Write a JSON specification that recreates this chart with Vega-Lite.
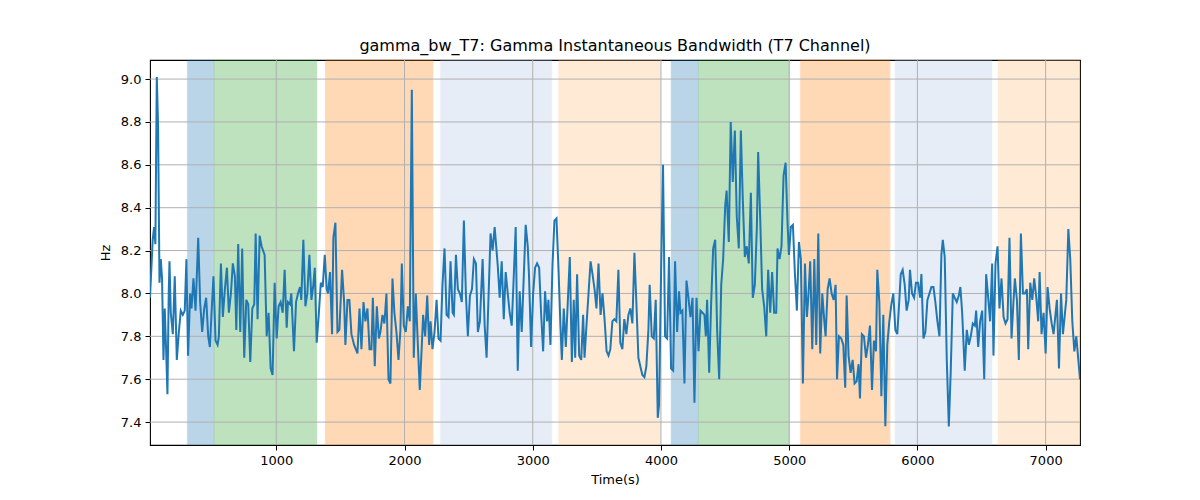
{
  "$schema": "https://vega.github.io/schema/vega-lite/v6.json",
  "width": 930,
  "height": 385,
  "autosize": {"type": "none"},
  "padding": {"left": 150, "top": 60, "right": 120, "bottom": 55},
  "background": "white",
  "config": {
    "view": {"stroke": "black", "strokeWidth": 1.1},
    "axis": {
      "domain": false,
      "grid": false,
      "tickColor": "black",
      "tickSize": 5,
      "tickWidth": 1,
      "labelFont": "DejaVu Sans",
      "labelFontSize": 13,
      "labelColor": "black",
      "labelPadding": 4,
      "titleFont": "DejaVu Sans",
      "titleFontSize": 13,
      "titleFontWeight": "normal",
      "titleColor": "black"
    }
  },
  "title": {
    "text": "gamma_bw_T7: Gamma Instantaneous Bandwidth (T7 Channel)",
    "font": "DejaVu Sans",
    "fontSize": 16,
    "fontWeight": "normal",
    "color": "black",
    "anchor": "middle",
    "offset": 5
  },
  "datasets": {
    "bands": [
      {"start": 306, "end": 514, "kind": "a"},
      {"start": 514, "end": 1317, "kind": "b"},
      {"start": 1382, "end": 2222, "kind": "c"},
      {"start": 2279, "end": 3149, "kind": "d"},
      {"start": 3201, "end": 3996, "kind": "e"},
      {"start": 4079, "end": 4292, "kind": "a"},
      {"start": 4292, "end": 5002, "kind": "b"},
      {"start": 5087, "end": 5787, "kind": "c"},
      {"start": 5826, "end": 6582, "kind": "d"},
      {"start": 6629, "end": 7268, "kind": "e"}
    ],
    "xgrid": [{"v": 1000}, {"v": 2000}, {"v": 3000}, {"v": 4000}, {"v": 5000}, {"v": 6000}, {"v": 7000}],
    "ygrid": [{"v": 7.4}, {"v": 7.6}, {"v": 7.8}, {"v": 8.0}, {"v": 8.2}, {"v": 8.4}, {"v": 8.6}, {"v": 8.8}, {"v": 9.0}],
    "series": [
      {"t":15,"hz":7.98},{"t":36,"hz":8.25},{"t":47,"hz":8.31},{"t":57,"hz":8.23},{"t":68,"hz":9.01},{"t":78,"hz":8.78},{"t":89,"hz":8.05},{"t":99,"hz":8.16},{"t":109,"hz":8.07},{"t":120,"hz":7.69},{"t":130,"hz":7.93},{"t":141,"hz":7.73},{"t":151,"hz":7.53},{"t":161,"hz":8.0},{"t":167,"hz":8.15},{"t":177,"hz":7.91},{"t":193,"hz":7.81},{"t":208,"hz":8.08},{"t":224,"hz":7.69},{"t":240,"hz":7.82},{"t":255,"hz":7.92},{"t":271,"hz":7.9},{"t":286,"hz":7.92},{"t":299,"hz":8.16},{"t":312,"hz":7.71},{"t":328,"hz":8.0},{"t":339,"hz":7.93},{"t":354,"hz":8.07},{"t":370,"hz":7.92},{"t":391,"hz":8.26},{"t":406,"hz":7.96},{"t":422,"hz":7.82},{"t":438,"hz":7.93},{"t":453,"hz":7.98},{"t":469,"hz":7.8},{"t":482,"hz":7.75},{"t":495,"hz":7.91},{"t":510,"hz":8.08},{"t":526,"hz":7.78},{"t":542,"hz":7.76},{"t":552,"hz":7.8},{"t":568,"hz":8.14},{"t":583,"hz":7.89},{"t":599,"hz":8.02},{"t":615,"hz":8.12},{"t":630,"hz":7.91},{"t":646,"hz":8.0},{"t":661,"hz":8.14},{"t":677,"hz":8.08},{"t":688,"hz":7.83},{"t":703,"hz":8.23},{"t":719,"hz":7.82},{"t":734,"hz":8.21},{"t":750,"hz":7.7},{"t":766,"hz":7.97},{"t":781,"hz":7.95},{"t":797,"hz":7.68},{"t":813,"hz":7.93},{"t":828,"hz":7.95},{"t":839,"hz":8.28},{"t":854,"hz":7.88},{"t":870,"hz":8.27},{"t":885,"hz":8.22},
      {"t":909,"hz":8.18},{"t":925,"hz":7.8},{"t":940,"hz":7.91},{"t":956,"hz":7.65},{"t":971,"hz":7.62},{"t":987,"hz":8.05},{"t":1003,"hz":7.79},{"t":1018,"hz":7.94},{"t":1034,"hz":7.96},{"t":1050,"hz":7.91},{"t":1065,"hz":8.11},{"t":1081,"hz":7.84},{"t":1091,"hz":7.96},{"t":1107,"hz":7.95},{"t":1117,"hz":8.0},{"t":1138,"hz":7.73},{"t":1154,"hz":7.96},{"t":1169,"hz":8.0},{"t":1185,"hz":8.03},{"t":1195,"hz":7.97},{"t":1211,"hz":8.25},{"t":1227,"hz":7.94},{"t":1242,"hz":8.0},{"t":1258,"hz":8.18},{"t":1274,"hz":7.97},{"t":1289,"hz":8.04},{"t":1300,"hz":8.12},{"t":1315,"hz":7.77},{"t":1331,"hz":7.9},{"t":1347,"hz":8.05},{"t":1362,"hz":8.03},{"t":1378,"hz":8.18},{"t":1393,"hz":8.02},{"t":1404,"hz":8.0},{"t":1419,"hz":8.1},{"t":1435,"hz":7.81},{"t":1445,"hz":8.26},{"t":1461,"hz":8.33},{"t":1477,"hz":7.82},{"t":1492,"hz":7.83},{"t":1513,"hz":8.11},{"t":1529,"hz":7.96},{"t":1539,"hz":7.76},{"t":1555,"hz":7.97},{"t":1570,"hz":7.97},{"t":1586,"hz":7.81},{"t":1607,"hz":7.76},{"t":1633,"hz":7.72},{"t":1649,"hz":7.93},{"t":1664,"hz":7.74},{"t":1680,"hz":7.96},{"t":1695,"hz":7.87},{"t":1711,"hz":7.93},{"t":1727,"hz":7.74},{"t":1742,"hz":7.74},{"t":1753,"hz":7.98},{"t":1768,"hz":7.66},{"t":1784,"hz":7.94},{"t":1800,"hz":7.79},
      {"t":1812,"hz":7.82},{"t":1828,"hz":7.9},{"t":1843,"hz":7.86},{"t":1859,"hz":8.0},{"t":1875,"hz":7.6},{"t":1890,"hz":7.58},{"t":1906,"hz":8.07},{"t":1921,"hz":7.91},{"t":1937,"hz":7.82},{"t":1953,"hz":7.69},{"t":1968,"hz":7.83},{"t":1979,"hz":8.14},{"t":1994,"hz":7.85},{"t":2010,"hz":7.82},{"t":2026,"hz":7.94},{"t":2041,"hz":7.87},{"t":2057,"hz":8.95},{"t":2072,"hz":7.7},{"t":2088,"hz":8.0},{"t":2104,"hz":7.76},{"t":2119,"hz":7.55},{"t":2135,"hz":7.76},{"t":2145,"hz":7.9},{"t":2161,"hz":7.8},{"t":2177,"hz":7.99},{"t":2192,"hz":7.76},{"t":2203,"hz":7.87},{"t":2218,"hz":7.74},{"t":2234,"hz":7.82},{"t":2250,"hz":7.97},{"t":2265,"hz":7.79},{"t":2281,"hz":7.78},{"t":2296,"hz":8.04},{"t":2312,"hz":8.21},{"t":2328,"hz":7.9},{"t":2343,"hz":7.89},{"t":2359,"hz":8.15},{"t":2375,"hz":7.91},{"t":2385,"hz":7.9},{"t":2401,"hz":8.18},{"t":2416,"hz":8.02},{"t":2432,"hz":8.0},{"t":2447,"hz":7.96},{"t":2463,"hz":8.34},{"t":2479,"hz":7.99},{"t":2494,"hz":7.8},{"t":2510,"hz":7.99},{"t":2526,"hz":8.02},{"t":2541,"hz":8.16},{"t":2557,"hz":8.14},{"t":2572,"hz":7.82},{"t":2588,"hz":7.87},{"t":2609,"hz":8.16},{"t":2625,"hz":7.85},{"t":2640,"hz":7.7},{"t":2656,"hz":8.0},{"t":2671,"hz":8.28},{"t":2687,"hz":8.2},{"t":2703,"hz":8.31},
      {"t":2727,"hz":8.13},{"t":2742,"hz":7.98},{"t":2758,"hz":8.15},{"t":2774,"hz":7.88},{"t":2789,"hz":8.1},{"t":2805,"hz":8.0},{"t":2820,"hz":7.91},{"t":2836,"hz":7.85},{"t":2852,"hz":8.08},{"t":2867,"hz":8.31},{"t":2883,"hz":7.64},{"t":2898,"hz":8.01},{"t":2914,"hz":7.82},{"t":2930,"hz":8.08},{"t":2945,"hz":8.32},{"t":2961,"hz":8.22},{"t":2971,"hz":8.08},{"t":2987,"hz":7.75},{"t":3003,"hz":8.0},{"t":3018,"hz":8.12},{"t":3034,"hz":8.14},{"t":3050,"hz":8.12},{"t":3065,"hz":7.91},{"t":3081,"hz":7.73},{"t":3096,"hz":8.01},{"t":3112,"hz":7.87},{"t":3122,"hz":7.97},{"t":3138,"hz":7.76},{"t":3154,"hz":8.13},{"t":3169,"hz":8.34},{"t":3185,"hz":8.35},{"t":3201,"hz":8.11},{"t":3216,"hz":7.85},{"t":3227,"hz":7.69},{"t":3242,"hz":7.93},{"t":3258,"hz":7.75},{"t":3274,"hz":7.97},{"t":3289,"hz":8.17},{"t":3305,"hz":7.68},{"t":3320,"hz":7.97},{"t":3331,"hz":7.7},{"t":3346,"hz":8.09},{"t":3362,"hz":7.71},{"t":3378,"hz":7.69},{"t":3393,"hz":7.9},{"t":3404,"hz":7.7},{"t":3419,"hz":7.85},{"t":3435,"hz":8.0},{"t":3451,"hz":8.15},{"t":3466,"hz":8.09},{"t":3482,"hz":8.02},{"t":3497,"hz":7.93},{"t":3513,"hz":8.14},{"t":3529,"hz":7.9},{"t":3544,"hz":8.0},{"t":3560,"hz":7.88},{"t":3576,"hz":7.73},{"t":3591,"hz":7.71},
      {"t":3605,"hz":7.74},{"t":3621,"hz":7.87},{"t":3636,"hz":7.88},{"t":3652,"hz":7.87},{"t":3668,"hz":8.11},{"t":3683,"hz":7.77},{"t":3699,"hz":7.74},{"t":3714,"hz":7.88},{"t":3730,"hz":7.81},{"t":3746,"hz":7.9},{"t":3761,"hz":7.93},{"t":3777,"hz":7.86},{"t":3793,"hz":8.19},{"t":3808,"hz":7.96},{"t":3824,"hz":7.7},{"t":3839,"hz":7.66},{"t":3855,"hz":7.62},{"t":3871,"hz":7.61},{"t":3886,"hz":7.66},{"t":3902,"hz":7.83},{"t":3912,"hz":8.04},{"t":3928,"hz":7.8},{"t":3944,"hz":7.79},{"t":3959,"hz":7.97},{"t":3975,"hz":7.42},{"t":3985,"hz":7.48},{"t":4001,"hz":8.1},{"t":4016,"hz":8.6},{"t":4032,"hz":7.8},{"t":4048,"hz":7.79},{"t":4063,"hz":8.17},{"t":4079,"hz":7.65},{"t":4095,"hz":7.64},{"t":4110,"hz":8.15},{"t":4126,"hz":7.82},{"t":4141,"hz":8.01},{"t":4152,"hz":7.91},{"t":4167,"hz":7.92},{"t":4183,"hz":7.58},{"t":4199,"hz":8.06},{"t":4214,"hz":7.98},{"t":4230,"hz":7.89},{"t":4246,"hz":7.98},{"t":4261,"hz":7.49},{"t":4277,"hz":7.98},{"t":4293,"hz":7.73},{"t":4308,"hz":7.92},{"t":4324,"hz":7.91},{"t":4339,"hz":7.9},{"t":4350,"hz":7.8},{"t":4360,"hz":7.97},{"t":4376,"hz":7.63},{"t":4391,"hz":7.95},{"t":4407,"hz":8.21},{"t":4423,"hz":8.25},{"t":4438,"hz":7.83},{"t":4454,"hz":7.6},{"t":4470,"hz":8.04},{"t":4485,"hz":8.16},{"t":4501,"hz":8.41},
      {"t":4512,"hz":8.48},{"t":4529,"hz":8.24},{"t":4544,"hz":8.8},{"t":4560,"hz":8.52},{"t":4576,"hz":8.76},{"t":4591,"hz":8.36},{"t":4607,"hz":8.21},{"t":4623,"hz":8.76},{"t":4638,"hz":8.44},{"t":4654,"hz":8.17},{"t":4669,"hz":8.22},{"t":4685,"hz":8.14},{"t":4701,"hz":8.47},{"t":4716,"hz":7.98},{"t":4732,"hz":8.04},{"t":4748,"hz":8.31},{"t":4758,"hz":8.66},{"t":4774,"hz":8.35},{"t":4789,"hz":8.02},{"t":4805,"hz":7.94},{"t":4821,"hz":7.8},{"t":4836,"hz":8.11},{"t":4852,"hz":7.91},{"t":4867,"hz":8.1},{"t":4883,"hz":7.91},{"t":4899,"hz":7.91},{"t":4909,"hz":8.21},{"t":4925,"hz":8.16},{"t":4940,"hz":8.22},{"t":4956,"hz":8.55},{"t":4972,"hz":8.61},{"t":4987,"hz":8.33},{"t":4998,"hz":8.18},{"t":5013,"hz":8.31},{"t":5029,"hz":8.32},{"t":5044,"hz":8.1},{"t":5060,"hz":7.92},{"t":5076,"hz":8.24},{"t":5091,"hz":8.16},{"t":5107,"hz":7.58},{"t":5123,"hz":8.14},{"t":5138,"hz":7.89},{"t":5149,"hz":7.98},{"t":5164,"hz":8.15},{"t":5180,"hz":7.74},{"t":5196,"hz":8.16},{"t":5211,"hz":7.76},{"t":5227,"hz":8.28},{"t":5242,"hz":7.72},{"t":5258,"hz":8.0},{"t":5274,"hz":7.87},{"t":5284,"hz":7.8},{"t":5300,"hz":8.02},{"t":5315,"hz":8.07},{"t":5331,"hz":8.0},{"t":5347,"hz":7.97},{"t":5362,"hz":8.04},{"t":5373,"hz":7.6},{"t":5388,"hz":7.8},
      {"t":5406,"hz":7.79},{"t":5422,"hz":7.76},{"t":5437,"hz":7.56},{"t":5448,"hz":7.99},{"t":5463,"hz":7.71},{"t":5479,"hz":7.63},{"t":5495,"hz":7.69},{"t":5510,"hz":7.58},{"t":5526,"hz":7.59},{"t":5541,"hz":7.67},{"t":5552,"hz":7.51},{"t":5567,"hz":7.81},{"t":5583,"hz":7.8},{"t":5599,"hz":7.7},{"t":5614,"hz":7.76},{"t":5630,"hz":7.85},{"t":5646,"hz":7.55},{"t":5661,"hz":7.78},{"t":5677,"hz":7.73},{"t":5687,"hz":8.11},{"t":5703,"hz":7.96},{"t":5719,"hz":7.52},{"t":5734,"hz":7.9},{"t":5750,"hz":7.38},{"t":5765,"hz":7.76},{"t":5781,"hz":7.87},{"t":5797,"hz":7.95},{"t":5812,"hz":8.0},{"t":5828,"hz":7.83},{"t":5843,"hz":7.81},{"t":5859,"hz":7.97},{"t":5870,"hz":8.09},{"t":5885,"hz":8.11},{"t":5901,"hz":8.04},{"t":5916,"hz":7.92},{"t":5932,"hz":7.97},{"t":5942,"hz":8.11},{"t":5958,"hz":8.0},{"t":5974,"hz":7.98},{"t":5989,"hz":8.05},{"t":6005,"hz":8.05},{"t":6021,"hz":7.98},{"t":6031,"hz":8.09},{"t":6047,"hz":7.79},{"t":6062,"hz":7.82},{"t":6078,"hz":7.97},{"t":6094,"hz":8.0},{"t":6109,"hz":8.03},{"t":6125,"hz":8.03},{"t":6140,"hz":7.96},{"t":6156,"hz":7.87},{"t":6172,"hz":7.8},{"t":6187,"hz":8.18},{"t":6198,"hz":8.25},{"t":6213,"hz":8.17},{"t":6229,"hz":7.69},{"t":6245,"hz":7.38},{"t":6260,"hz":7.64},{"t":6276,"hz":8.0},{"t":6291,"hz":7.98},{"t":6307,"hz":7.96},{"t":6323,"hz":7.99},
      {"t":6335,"hz":8.03},{"t":6349,"hz":7.91},{"t":6369,"hz":7.64},{"t":6385,"hz":7.83},{"t":6401,"hz":7.76},{"t":6416,"hz":7.8},{"t":6432,"hz":7.86},{"t":6448,"hz":7.85},{"t":6458,"hz":7.92},{"t":6474,"hz":7.75},{"t":6489,"hz":7.87},{"t":6505,"hz":7.92},{"t":6521,"hz":7.6},{"t":6536,"hz":8.09},{"t":6552,"hz":7.98},{"t":6567,"hz":7.87},{"t":6583,"hz":8.14},{"t":6593,"hz":7.71},{"t":6609,"hz":8.14},{"t":6625,"hz":8.22},{"t":6640,"hz":7.93},{"t":6656,"hz":8.07},{"t":6672,"hz":7.89},{"t":6687,"hz":7.86},{"t":6703,"hz":7.88},{"t":6718,"hz":8.26},{"t":6734,"hz":7.79},{"t":6750,"hz":7.97},{"t":6760,"hz":8.07},{"t":6776,"hz":7.97},{"t":6791,"hz":7.69},{"t":6807,"hz":8.28},{"t":6823,"hz":8.0},{"t":6838,"hz":8.0},{"t":6854,"hz":8.02},{"t":6864,"hz":7.74},{"t":6880,"hz":8.05},{"t":6896,"hz":7.97},{"t":6911,"hz":8.07},{"t":6927,"hz":7.98},{"t":6942,"hz":7.87},{"t":6953,"hz":8.1},{"t":6968,"hz":7.81},{"t":6984,"hz":7.91},{"t":7000,"hz":7.72},{"t":7015,"hz":8.03},{"t":7031,"hz":7.93},{"t":7047,"hz":7.86},{"t":7062,"hz":7.81},{"t":7078,"hz":7.91},{"t":7088,"hz":7.97},{"t":7104,"hz":7.65},{"t":7120,"hz":8.0},{"t":7135,"hz":7.81},{"t":7151,"hz":7.91},{"t":7161,"hz":7.97},{"t":7177,"hz":8.3},{"t":7192,"hz":8.16},{"t":7208,"hz":7.87},{"t":7224,"hz":7.73},{"t":7239,"hz":7.8},{"t":7255,"hz":7.69},{"t":7268,"hz":7.6}
    ]
  },
  "layer": [
    {
      "data": {"name": "bands"},
      "mark": {"type": "rect", "opacity": 0.3, "strokeWidth": 1.2, "strokeOpacity": 0.35},
      "encoding": {
        "x": {"field": "start", "type": "quantitative", "scale": {"domain": [15, 7268], "nice": false, "zero": false}, "axis": {"title": "Time(s)", "values": [1000, 2000, 3000, 4000, 5000, 6000, 7000], "format": "d", "titlePadding": 6}},
        "x2": {"field": "end"},
        "color": {"field": "kind", "type": "nominal", "legend": null, "scale": {"domain": ["a", "b", "c", "d", "e"], "range": ["#1f77b4", "#2ca02c", "#ff7f0e", "#aec7e8", "#ffbb78"]}},
        "stroke": {"field": "kind", "type": "nominal", "legend": null, "scale": {"domain": ["a", "b", "c", "d", "e"], "range": ["#1f77b4", "#2ca02c", "#ff7f0e", "#aec7e8", "#ffbb78"]}}
      }
    },
    {
      "data": {"name": "xgrid"},
      "mark": {"type": "rule", "color": "#b0b0b0", "strokeWidth": 1},
      "encoding": {"x": {"field": "v", "type": "quantitative", "axis": {"title": "Time(s)", "values": [1000, 2000, 3000, 4000, 5000, 6000, 7000], "format": "d", "titlePadding": 6}}}
    },
    {
      "data": {"name": "ygrid"},
      "mark": {"type": "rule", "color": "#b0b0b0", "strokeWidth": 1},
      "encoding": {"y": {"field": "v", "type": "quantitative", "scale": {"domain": [7.293, 9.089], "nice": false, "zero": false}, "axis": {"title": "Hz", "values": [7.4, 7.6, 7.8, 8.0, 8.2, 8.4, 8.6, 8.8, 9.0], "format": ".1f", "titlePadding": 8}}}
    },
    {
      "data": {"name": "series"},
      "mark": {"type": "line", "color": "#1f77b4", "strokeWidth": 2, "clip": true},
      "encoding": {
        "x": {"field": "t", "type": "quantitative", "axis": {"title": "Time(s)", "values": [1000, 2000, 3000, 4000, 5000, 6000, 7000], "format": "d", "titlePadding": 6}},
        "y": {"field": "hz", "type": "quantitative", "axis": {"title": "Hz", "values": [7.4, 7.6, 7.8, 8.0, 8.2, 8.4, 8.6, 8.8, 9.0], "format": ".1f", "titlePadding": 8}}
      }
    }
  ]
}
